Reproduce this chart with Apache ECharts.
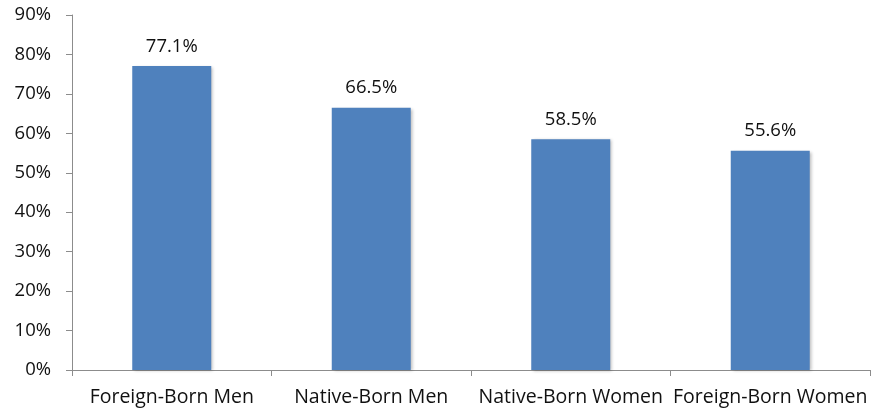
<!DOCTYPE html>
<html>
<head>
<meta charset="utf-8">
<script src="https://cdn.jsdelivr.net/npm/echarts@6/dist/echarts.min.js"></script>
<style>
  html, body { margin: 0; padding: 0; background: #fff; }
  #chart { width: 871px; height: 414px; }
</style>
</head>
<body>
<div id="chart"></div>
<script>
'use strict';
const categories = ['Foreign-Born Men', 'Native-Born Men', 'Native-Born Women', 'Foreign-Born Women'];
const values = [77.1, 66.5, 58.5, 55.6];

const font = '"Open Sans", "Noto Sans", sans-serif';

const myChart = echarts.init(document.getElementById('chart'));
myChart.setOption({
    animation: false,
    grid: { left: 72, right: 1, top: 15, bottom: 44 },
    xAxis: {
        type: 'category',
        data: categories,
        axisLine: { lineStyle: { color: '#8c8c8c', width: 1 } },
        axisTick: { show: true, length: 6, alignWithLabel: false, lineStyle: { color: '#8c8c8c' } },
        axisLabel: { color: '#111', fontSize: 19.5, fontFamily: font, margin: 17, interval: 0 }
    },
    yAxis: {
        type: 'value',
        min: 0,
        max: 90,
        interval: 10,
        axisLine: { show: true, lineStyle: { color: '#8c8c8c', width: 1 } },
        axisTick: { show: true, length: 6, lineStyle: { color: '#8c8c8c' } },
        splitLine: { show: false },
        axisLabel: { color: '#111', fontSize: 18.5, fontFamily: font, margin: 21, formatter: '{value}%' }
    },
    series: [{
        type: 'bar',
        data: values,
        barWidth: 79,
        itemStyle: {
            color: '#4f81bd',
            shadowColor: 'rgba(0,0,0,0.25)',
            shadowBlur: 3,
            shadowOffsetX: 2,
            shadowOffsetY: 1
        },
        label: {
            show: true,
            position: 'top',
            distance: 10,
            color: '#111',
            fontSize: 18.5,
            fontFamily: font,
            formatter: p => p.value.toFixed(1) + '%'
        }
    }]
});
</script>
</body>
</html>
